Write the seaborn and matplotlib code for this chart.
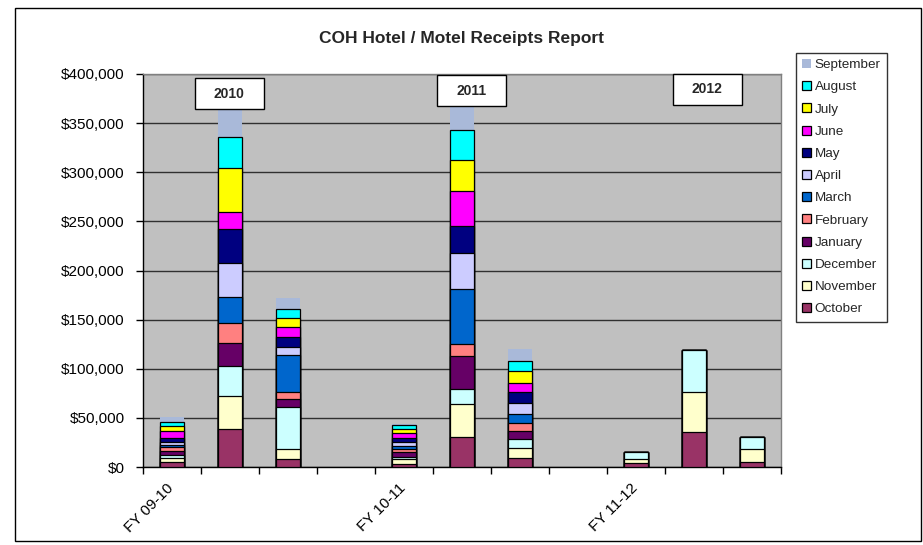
import numpy as np
import pandas as pd
import matplotlib
matplotlib.use("Agg")
import matplotlib.pyplot as plt
import seaborn as sns
from matplotlib.patches import Rectangle
from matplotlib.ticker import FuncFormatter
import matplotlib.transforms as mtrans

# ---------------- data ----------------
categories = ["FY 09-10", "2010 a", "2010 b", "gap 1", "FY 10-11", "2011 a", "2011 b",
              "gap 2", "FY 11-12", "2012 a", "2012 b"]
tick_labels = ["FY 09-10", "", "", "", "FY 10-11", "", "", "", "FY 11-12", "", ""]
bar_periods = ["FY 09-10", "2010 a", "2010 b", "FY 10-11", "2011 a", "2011 b",
               "FY 11-12", "2012 a", "2012 b"]
months = ["October", "November", "December", "January", "February", "March",
          "April", "May", "June", "July", "August", "September"]

october   = [5500, 38700, 7800, 3400, 30200, 9500, 3700, 35900, 5100]
november  = [3300, 33900, 10500, 4400, 33600, 10100, 4400, 40100, 12900]
december  = [3400, 30200, 42500, 2700, 15300, 8900, 6900, 43500, 12800]
january   = [4400, 23700, 8400, 5100, 33900, 8400, 0, 0, 0]
february  = [3400, 19700, 6800, 2700, 12500, 8200, 0, 0, 0]
march     = [2400, 26500, 37700, 3400, 55700, 8500, 0, 0, 0]
april     = [3400, 34600, 8700, 4100, 36900, 11200, 0, 0, 0]
may       = [3400, 34600, 10200, 4000, 27500, 11200, 0, 0, 0]
june      = [7800, 17300, 9600, 5100, 35300, 9800, 0, 0, 0]
july      = [5000, 44800, 9100, 4100, 31600, 11900, 0, 0, 0]
august    = [4100, 31600, 9500, 3400, 30500, 10500, 0, 0, 0]
september = [4500, 27800, 11500, 1400, 23700, 11600, 0, 0, 0]

year_labels = ["2010", "2011", "2012"]

month_colors = {
    "October": "#993366", "November": "#FFFFCC", "December": "#CCFFFF",
    "January": "#660066", "February": "#FF8080", "March": "#0066CC",
    "April": "#CCCCFF", "May": "#000080", "June": "#FF00FF",
    "July": "#FFFF00", "August": "#00FFFF", "September": "#A9B9D9",
}

# ---------------- style ----------------
sns.set_theme(style="white")
plt.rcParams['font.family'] = ['Liberation Sans', 'DejaVu Sans']

W, H = 923, 545
fig = plt.figure(figsize=(W / 100, H / 100), dpi=100, facecolor="white")
ax = fig.add_axes([143 / W, (H - 467) / H, 638 / W, 393 / H])
ax.set_facecolor("#C0C0C0")

df = pd.DataFrame({"period": bar_periods, "October": october, "November": november,
                   "December": december, "January": january, "February": february,
                   "March": march, "April": april, "May": may, "June": june,
                   "July": july, "August": august, "September": september})
cum = df[months].cumsum(axis=1)

for m in reversed(months):
    sns.barplot(x=df["period"], y=cum[m], order=categories, color=month_colors[m],
                saturation=1, width=0.4, errorbar=None,
                edgecolor="none" if m == "September" else "black",
                linewidth=0 if m == "September" else 0.9,
                label=m, ax=ax, zorder=3)

ax.set_xlim(-0.5, 10.5)
ax.set_ylim(0, 400000)
ax.set_yticks(np.arange(0, 400001, 50000))
ax.yaxis.set_major_formatter(FuncFormatter(lambda v, p: f"${v:,.0f}"))
ax.set_xlabel("")
ax.set_ylabel("")
ax.yaxis.grid(True, color="#303030", lw=1.0)
ax.xaxis.grid(False)
ax.set_axisbelow(True)

ax.set_xticks(range(len(categories)))
ax.set_xticklabels(tick_labels, rotation=45, ha="right", va="top", rotation_mode="default")
ax.set_xticks(np.arange(-0.5, 11, 1), minor=True)
ax.tick_params(axis="x", which="major", length=0, pad=10, labelsize=11, colors="black")
ax.tick_params(axis="x", which="minor", length=5, width=1, direction="out", color="black", bottom=True)
ax.tick_params(axis="y", which="major", length=5, width=1, direction="out", pad=8,
               labelsize=11, colors="black", left=True)
off = mtrans.ScaledTranslation(4 / 100, 0, fig.dpi_scale_trans)
for lbl in ax.get_xticklabels():
    lbl.set_transform(lbl.get_transform() + off)

for s in ["left", "bottom"]:
    ax.spines[s].set_color("black")
    ax.spines[s].set_linewidth(1)
for s in ["top", "right"]:
    ax.spines[s].set_color("#808080")
    ax.spines[s].set_linewidth(1)
    ax.spines[s].set_visible(True)

# year label boxes
box_pos = [(0.99, 380000), (5.17, 382700), (9.23, 384700)]
bw, bh = 69 / 58, 31 * 1000 / 0.9825
for lab, (xc, yc) in zip(year_labels, box_pos):
    ax.add_patch(Rectangle((xc - bw / 2, yc - bh / 2), bw, bh, facecolor="white",
                           edgecolor="black", lw=1, zorder=6, clip_on=False))
    ax.text(xc, yc, lab, ha="center", va="center", fontsize=10, fontweight="bold",
            zorder=7, clip_on=False)

# legend
handles, labels = ax.get_legend_handles_labels()
if ax.get_legend() is not None:
    ax.get_legend().remove()
leg = fig.legend(handles, labels, loc="upper left", bbox_to_anchor=(796 / W, 1 - 53 / H),
                 frameon=True, fancybox=False, edgecolor="black", facecolor="white",
                 fontsize=9.7, handlelength=0.65, handleheight=0.65, handletextpad=0.3,
                 labelspacing=0.74, borderpad=0.45, borderaxespad=0)
leg.get_frame().set_linewidth(1)

# title
fig.text(462 / W, 1 - 38 / H, "COH Hotel / Motel Receipts Report", ha="center",
         va="center", fontsize=12.5, fontweight="bold")

# outer frame
fig.add_artist(Rectangle((15 / W, 4 / H), (921 - 15) / W, (539 - 6) / H,
                         transform=fig.transFigure, fill=False, edgecolor="black", lw=1))

fig.savefig("out.png", dpi=100, facecolor="white")
